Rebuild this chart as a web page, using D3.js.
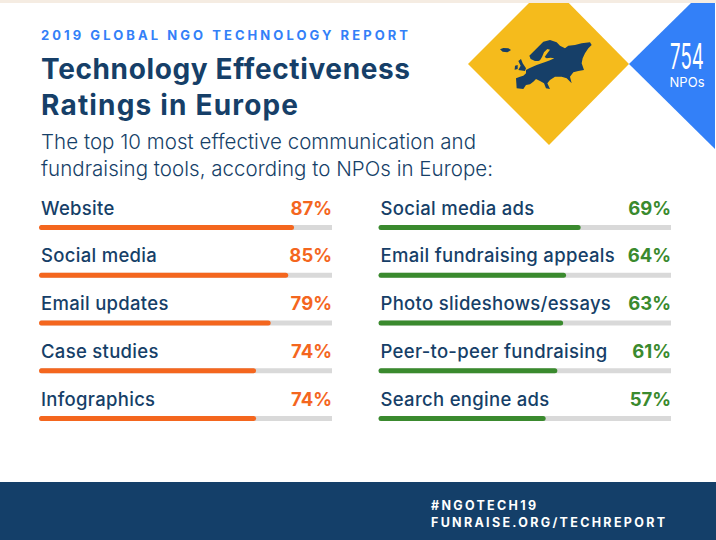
<!DOCTYPE html>
<html>
<head>
<meta charset="utf-8">
<script src="https://cdn.jsdelivr.net/npm/d3@7"></script>
<style>
  html, body { margin: 0; padding: 0; background: #fff; }
  svg { display: block; }
  text { font-family: Inter, Lato, sans-serif; }
</style>
</head>
<body>
<svg id="chart" width="716" height="540"></svg>
<script>
// Values
var leftTools = ["Website", "Social media", "Email updates", "Case studies", "Infographics"];
var leftValues = [87, 85, 79, 74, 74];
var rightTools = ["Social media ads", "Email fundraising appeals", "Photo slideshows/essays", "Peer-to-peer fundraising", "Search engine ads"];
var rightValues = [69, 64, 63, 61, 57];

var navy = "#163f68";
var orange = "#f4661e";
var green = "#3a8a2e";
var blue = "#3380f8";
var yellow = "#f5bb1c";
var track = "#d9d9d9";

var svg = d3.select("#chart");

// Top band, footer
svg.append("rect").attr("width", 716).attr("height", 3).attr("fill", "#f5ece2");
svg.append("rect").attr("y", 482).attr("width", 716).attr("height", 58).attr("fill", "#143f69");

// Diamonds, clipped under the top band
var clip = svg.append("clipPath").attr("id", "page");
clip.append("rect").attr("y", 3).attr("width", 715).attr("height", 537);
var shapes = svg.append("g").attr("clip-path", "url(#page)");
shapes.append("polygon").attr("points", "549,-17 629,64 549,145 468,64").attr("fill", yellow);
shapes.append("polygon").attr("points", "691,3 629,64 716,150 716,3").attr("fill", blue);

// Rough outline of Europe, traced at 3x
var iceland = [[-30,43],[-20,39],[-5,40],[3,45],[-8,52],[-22,50]];
var britain = [[25,78],[33,72],[38,85],[48,100],[45,108],[25,105],[32,92]];
var ireland = [[15,92],[23,90],[23,102],[14,104]];
var mainland = [[18,130],[30,125],[40,122],[48,115],[48,105],[58,100],[68,95],[80,90],[95,85],[108,80],[120,76],
  [133,70],[122,68],[110,70],[104,66],[112,55],[120,44],[112,42],[102,52],[96,66],[90,76],[85,78],[75,78],[62,72],
  [58,62],[70,50],[85,35],[100,20],[120,15],[140,22],[150,32],[165,40],[175,32],[195,30],[215,25],[240,22],[245,30],
  [235,40],[225,55],[218,70],[215,85],[222,105],[205,108],[190,112],[180,125],[185,145],[170,130],[155,125],[135,125],
  [120,135],[112,145],[120,162],[108,160],[102,145],[90,138],[78,132],[70,140],[60,148],[48,150],[40,162],[20,160]];

var outline = d3.line();
svg.append("g")
  .attr("transform", "translate(510,35) scale(0.3333)")
  .attr("fill", navy)
  .selectAll("path")
  .data([iceland, britain, ireland, mainland])
  .join("path")
  .attr("d", d => outline(d) + "Z");

// Header text
function addText(x, y, str, size, weight, fill, width, anchor) {
  var t = svg.append("text")
    .attr("x", x).attr("y", y)
    .attr("font-size", size).attr("font-weight", weight)
    .attr("fill", fill).attr("text-anchor", anchor || "start")
    .text(str);
  if (width) t.attr("textLength", width).attr("lengthAdjust", "spacing");
  return t;
}

addText(41, 40, "2019 GLOBAL NGO TECHNOLOGY REPORT", 13, 700, blue, 367);
addText(41, 79, "Technology Effectiveness", 28, 700, navy, 369);
addText(41, 115, "Ratings in Europe", 28, 700, navy, 257);
addText(41, 149, "The top 10 most effective communication and", 20.5, 300, navy, 435);
addText(41, 176, "fundraising tools, according to NPOs in Europe:", 20.5, 300, navy, 452);

// Badge: the number is a condensed face in the reference, so squeeze it
addText(0, 0, "754", 34, 400, "#fff", null, "middle")
  .attr("transform", "translate(687,69) scale(0.55,1.05)");
addText(687, 87, "NPOs", 13, 400, "#fff", 35, "middle");

// Footer text
addText(431, 510, "#NGOTECH19", 12.5, 700, "#fff", 105);
addText(431, 527, "FUNRAISE.ORG/TECHREPORT", 12.5, 700, "#fff", 234);

// Each column gets its own scale from 0-100% to the track width
var rowY = d3.scalePoint().domain(d3.range(5)).range([208, 399]);

function drawColumn(tools, values, x0, x1, color) {
  var x = d3.scaleLinear().domain([0, 100]).range([x0, x1]);
  var rows = svg.append("g").selectAll("g").data(tools).join("g")
    .attr("transform", (d, i) => `translate(0,${rowY(i)})`);

  rows.append("rect")
    .attr("x", x(0)).attr("y", 17)
    .attr("width", x(100) - x(0)).attr("height", 5)
    .attr("fill", track);

  rows.append("rect")
    .attr("x", x(0) - 1).attr("y", 17)
    .attr("width", (d, i) => x(values[i]) - x(0) + 1).attr("height", 5)
    .attr("rx", 2.5)
    .attr("fill", color);

  rows.append("text")
    .attr("x", x0 + 1).attr("y", 6.5)
    .attr("font-size", 18.5).attr("font-weight", 450)
    .attr("letter-spacing", 0.3)
    .attr("fill", navy)
    .text(d => d);

  rows.append("text")
    .attr("x", x1).attr("y", 6.5)
    .attr("text-anchor", "end")
    .attr("font-size", 18.5).attr("font-weight", 700)
    .attr("fill", color)
    .text((d, i) => values[i] + "%");
}

drawColumn(leftTools, leftValues, 40, 332, orange);
drawColumn(rightTools, rightValues, 379.5, 671, green);
</script>
</body>
</html>
